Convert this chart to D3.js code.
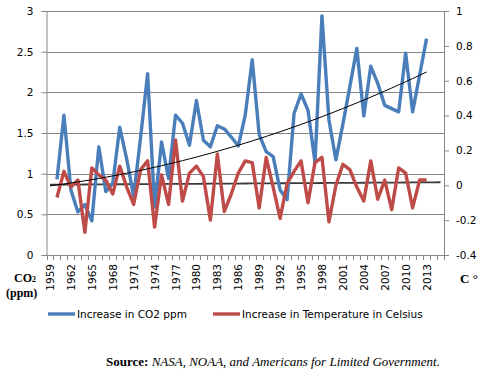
<!DOCTYPE html>
<html lang="en">
<head>
<meta charset="UTF-8">
<title>CO2 vs Temperature increase</title>
<script src="https://d3js.org/d3.v7.min.js"></script>
<style>
    body { margin: 0; background: #fff; }
    .tick-label { font-family: "DejaVu Sans", Verdana, sans-serif; font-size: 10.5px; fill: #000; }
    .serif { font-family: "Liberation Serif", "Times New Roman", serif; fill: #000; }
</style>
</head>
<body>
<div id="chart"></div>
<script>
// categories on the x axis (1959 and 2014-2015 are empty slots)
const years = [1959, 1960, 1961, 1962, 1963, 1964, 1965, 1966, 1967, 1968, 1969,
    1970, 1971, 1972, 1973, 1974, 1975, 1976, 1977, 1978, 1979,
    1980, 1981, 1982, 1983, 1984, 1985, 1986, 1987, 1988, 1989,
    1990, 1991, 1992, 1993, 1994, 1995, 1996, 1997, 1998, 1999,
    2000, 2001, 2002, 2003, 2004, 2005, 2006, 2007, 2008, 2009,
    2010, 2011, 2012, 2013, 2014, 2015];
const dataYears = years.slice(1, 55); // 1960..2013
const yearLabels = [1959, 1962, 1965, 1968, 1971, 1974, 1977, 1980, 1983, 1986,
    1989, 1992, 1995, 1998, 2001, 2004, 2007, 2010, 2013];

// Increase in CO2 ppm, 1960..2013
const co2 = [0.93, 1.72, 0.80, 0.53, 0.62, 0.42, 1.33, 0.78, 0.88, 1.57,
    1.18, 0.72, 1.45, 2.23, 0.59, 1.39, 0.94, 1.72, 1.62, 1.35,
    1.90, 1.41, 1.33, 1.59, 1.55, 1.45, 1.34, 1.72, 2.40, 1.48,
    1.27, 1.21, 0.80, 0.68, 1.74, 1.98, 1.78, 1.14, 2.94, 1.66,
    1.17, 1.61, 2.07, 2.54, 1.71, 2.32, 2.11, 1.84, 1.80, 1.76,
    2.48, 1.76, 2.21, 2.66];
// Increase in temperature (C), 1960..2013
const temp = [-0.07, 0.08, -0.01, 0.03, -0.27, 0.10, 0.06, 0.03, -0.05, 0.11,
    -0.01, -0.11, 0.09, 0.14, -0.24, 0.06, -0.11, 0.26, -0.09, 0.07,
    0.11, 0.05, -0.20, 0.18, -0.15, -0.05, 0.07, 0.14, 0.13, -0.13,
    0.16, -0.01, -0.19, 0.01, 0.08, 0.14, -0.10, 0.13, 0.16, -0.21,
    0.00, 0.12, 0.09, -0.01, -0.09, 0.14, -0.08, 0.03, -0.14, 0.10,
    0.07, -0.13, 0.03, 0.03];

// CO2 polynomial trendline, read at three years (start, middle, end)
const co2TrendYears = [1959, 1986, 2013];
const co2TrendValues = [0.85, 1.35, 2.25];

const leftTicks = [0, 0.5, 1, 1.5, 2, 2.5, 3];
const rightTicks = [-0.4, -0.2, 0, 0.2, 0.4, 0.6, 0.8, 1];

const W = 494, H = 376;
const plot = { left: 46.5, right: 444, top: 11, bottom: 255 };
const gridColor = "#868686";
const blue = "#4a7ebb", red = "#be4b48";

const svg = d3.select("#chart").append("svg")
    .attr("width", W).attr("height", H);

const x = d3.scaleBand().domain(years).range([plot.left, plot.right]).padding(0);
const cx = d => x(d) + x.bandwidth() / 2;
const yL = d3.scaleLinear().domain([0, 3]).range([plot.bottom, plot.top]);
const yR = d3.scaleLinear().domain([-0.4, 1]).range([plot.bottom, plot.top]);

// gridlines
svg.append("g").selectAll("line")
    .data(leftTicks.filter(d => d > 0))
    .join("line")
    .attr("x1", plot.left).attr("x2", plot.right)
    .attr("y1", d => Math.round(yL(d)) + 0.5).attr("y2", d => Math.round(yL(d)) + 0.5)
    .attr("stroke", gridColor).attr("stroke-width", 1);

// left axis
const gl = svg.append("g")
    .attr("transform", `translate(${plot.left},0)`)
    .call(d3.axisLeft(yL).tickValues(leftTicks).tickSize(5).tickPadding(8)
        .tickFormat(d3.format("")));
gl.select(".domain").attr("stroke", gridColor);
gl.selectAll(".tick line").attr("stroke", gridColor);
gl.selectAll("text").attr("class", "tick-label").attr("font-family", null).attr("font-size", null);

// right axis
const gr = svg.append("g")
    .attr("transform", `translate(${plot.right},0)`)
    .call(d3.axisRight(yR).tickValues(rightTicks).tickSize(5).tickPadding(7)
        .tickFormat(d => d === 0 ? "0" : String(+d.toFixed(1))));
gr.select(".domain").attr("stroke", gridColor);
gr.selectAll(".tick line").attr("stroke", gridColor);
gr.selectAll("text").attr("class", "tick-label").attr("font-family", null).attr("font-size", null);

// x axis line + ticks on category boundaries
const xg = svg.append("g");
xg.append("line")
    .attr("x1", plot.left).attr("x2", plot.right)
    .attr("y1", plot.bottom + 0.5).attr("y2", plot.bottom + 0.5)
    .attr("stroke", gridColor);
xg.selectAll(".xt")
    .data(years.concat(["end"]))
    .join("line")
    .attr("class", "xt")
    .attr("x1", d => Math.round(d === "end" ? plot.right : x(d)) + 0.5)
    .attr("x2", d => Math.round(d === "end" ? plot.right : x(d)) + 0.5)
    .attr("y1", plot.bottom).attr("y2", plot.bottom + 5)
    .attr("stroke", gridColor);
xg.selectAll(".xl")
    .data(yearLabels)
    .join("text")
    .attr("class", "tick-label xl")
    .attr("transform", d => `translate(${cx(d) + 4},${plot.bottom + 9}) rotate(-90)`)
    .attr("text-anchor", "end")
    .text(d => d);

// least squares fit, used for the temperature linear trend
function polyFit(xs, ys, deg) {
    const n = deg + 1;
    const A = Array.from({ length: n }, () => new Array(n + 1).fill(0));
    xs.forEach((xv, k) => {
        for (let i = 0; i < n; i++) {
            for (let j = 0; j < n; j++) A[i][j] += Math.pow(xv, i + j);
            A[i][n] += ys[k] * Math.pow(xv, i);
        }
    });
    for (let i = 0; i < n; i++) {
        let p = i;
        for (let r = i + 1; r < n; r++) if (Math.abs(A[r][i]) > Math.abs(A[p][i])) p = r;
        [A[i], A[p]] = [A[p], A[i]];
        for (let r = 0; r < n; r++) {
            if (r === i) continue;
            const f = A[r][i] / A[i][i];
            for (let c = i; c <= n; c++) A[r][c] -= f * A[i][c];
        }
    }
    const coef = A.map((row, i) => row[n] / row[i]);
    return t => coef.reduce((s, c, i) => s + c * Math.pow(t, i), 0);
}
const tempTrend = polyFit(dataYears.map(y => y - 1958), temp, 1);
// quadratic through the three read trend values
const co2Trend = polyFit(co2TrendYears.map(y => y - 1958), co2TrendValues, 2);

const line = d3.line().x(d => d[0]).y(d => d[1]);

svg.append("path")
    .attr("d", line(years.map(y => [cx(y), yR(tempTrend(y - 1958))])))
    .attr("fill", "none").attr("stroke", "#3a3a3a").attr("stroke-width", 1.8);

// series
svg.append("path")
    .attr("d", line(dataYears.map((y, i) => [cx(y), yL(co2[i])])))
    .attr("fill", "none").attr("stroke", blue).attr("stroke-width", 3.4)
    .attr("stroke-linejoin", "round");
svg.append("path")
    .attr("d", line(dataYears.map((y, i) => [cx(y), yR(temp[i])])))
    .attr("fill", "none").attr("stroke", red).attr("stroke-width", 3.4)
    .attr("stroke-linejoin", "round");

svg.append("path")
    .attr("d", line(years.filter(y => y <= 2013).map(y => [cx(y), yL(co2Trend(y - 1958))])))
    .attr("fill", "none").attr("stroke", "#000").attr("stroke-width", 1);

// axis titles
const co2Label = svg.append("text").attr("class", "serif")
    .attr("x", 14).attr("y", 282).attr("font-size", 12).attr("font-weight", "bold");
co2Label.append("tspan").text("CO");
co2Label.append("tspan").attr("font-size", 8).text("2");
svg.append("text").attr("class", "serif")
    .attr("x", 6).attr("y", 297).attr("font-size", 12).attr("font-weight", "bold")
    .text("(ppm)");
svg.append("text").attr("class", "serif")
    .attr("x", 460).attr("y", 283).attr("font-size", 13).attr("font-weight", "bold")
    .text("C °");

// legend
const legend = [
    { name: "Increase in CO2 ppm", color: blue, x: 48 },
    { name: "Increase in Temperature in Celsius", color: red, x: 213 }
];
const lg = svg.append("g").selectAll("g").data(legend).join("g")
    .attr("transform", d => `translate(${d.x},314)`);
lg.append("line").attr("x1", 0).attr("x2", 27).attr("y1", 0).attr("y2", 0)
    .attr("stroke", d => d.color).attr("stroke-width", 3.4);
lg.append("text").attr("class", "tick-label").attr("x", 29).attr("y", 4)
    .text(d => d.name);

// source
const src = svg.append("text").attr("class", "serif")
    .attr("x", 106).attr("y", 366).attr("font-size", 13);
src.append("tspan").attr("font-weight", "bold").text("Source: ");
src.append("tspan").attr("font-style", "italic")
    .text("NASA, NOAA, and Americans for Limited Government.");
</script>
</body>
</html>
